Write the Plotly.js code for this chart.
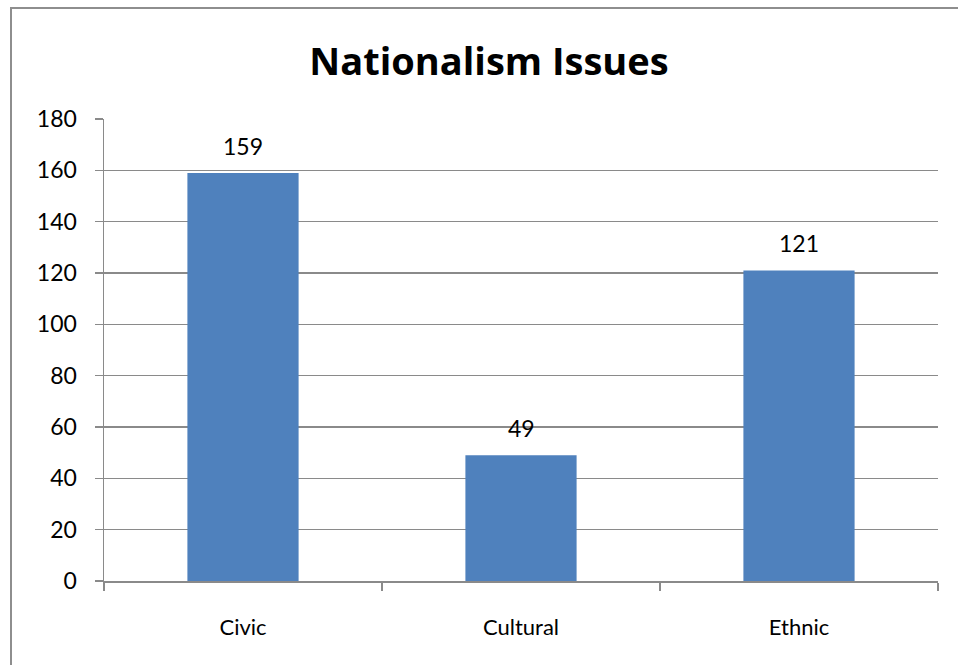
<!DOCTYPE html>
<html>
<head>
<meta charset="utf-8">
<script src="https://cdn.plot.ly/plotly-3.0.1.min.js"></script>
<style>
  html, body { margin: 0; padding: 0; background: #ffffff; }
  #frame { position: absolute; left: 10px; top: 7px; width: 960px; height: 670px;
           border-left: 2px solid #8e8e8e; border-top: 2px solid #8e8e8e; box-sizing: border-box; }
  #chart { position: absolute; left: 0; top: 0; width: 958px; height: 665px; }
</style>
</head>
<body>
<div id="frame"></div>
<div id="chart"></div>
<script>
const categories = ["Civic", "Cultural", "Ethnic"];
const values = [159, 49, 121];
const yTicks = [0, 20, 40, 60, 80, 100, 120, 140, 160, 180];

const FONT = "Lato, 'Open Sans', sans-serif";
const TITLE_FONT = "'Open Sans', Lato, sans-serif";
const GRID = "#8a8a8a";

const trace = {
  type: "bar",
  x: categories,
  y: values,
  marker: { color: "#4f81bd", line: { width: 0 } },
  hoverinfo: "x+y"
};

const annotations = categories.map((c, i) => ({
  x: c, y: values[i], xref: "x", yref: "y",
  text: String(values[i]),
  showarrow: false, yanchor: "bottom", yshift: 11,
  font: { family: FONT, size: 23, color: "#000000" }
}));

const layout = {
  width: 958, height: 665,
  margin: { l: 104, r: 20, t: 119, b: 84, pad: 0 },
  paper_bgcolor: "rgba(0,0,0,0)",
  plot_bgcolor: "rgba(0,0,0,0)",
  showlegend: false,
  bargap: 0.6,
  title: {
    text: "<b>Nationalism Issues</b>",
    font: { family: TITLE_FONT, size: 38, color: "#000000" },
    xref: "container", yref: "container",
    x: 489 / 958, y: 1 - 62 / 665, xanchor: "center", yanchor: "middle"
  },
  xaxis: {
    type: "category",
    showgrid: false,
    showline: true, linecolor: GRID, linewidth: 1.5,
    ticks: "outside", tickson: "boundaries", ticklen: 8, tickcolor: GRID, tickwidth: 1.5,
    ticklabelstandoff: 26,
    tickfont: { family: FONT, size: 22, color: "#000000" },
    zeroline: false
  },
  yaxis: {
    range: [0, 180],
    tickvals: yTicks,
    ticktext: yTicks.map(String),
    showgrid: true, gridcolor: GRID, gridwidth: 1.5,
    showline: true, linecolor: GRID, linewidth: 1.5,
    ticks: "outside", ticklen: 8, tickcolor: GRID, tickwidth: 1.5,
    ticklabelstandoff: 13,
    tickfont: { family: FONT, size: 23, color: "#000000" },
    zeroline: false
  },
  annotations: annotations
};

Plotly.newPlot("chart", [trace], layout, { displayModeBar: false, staticPlot: true });
</script>
</body>
</html>
